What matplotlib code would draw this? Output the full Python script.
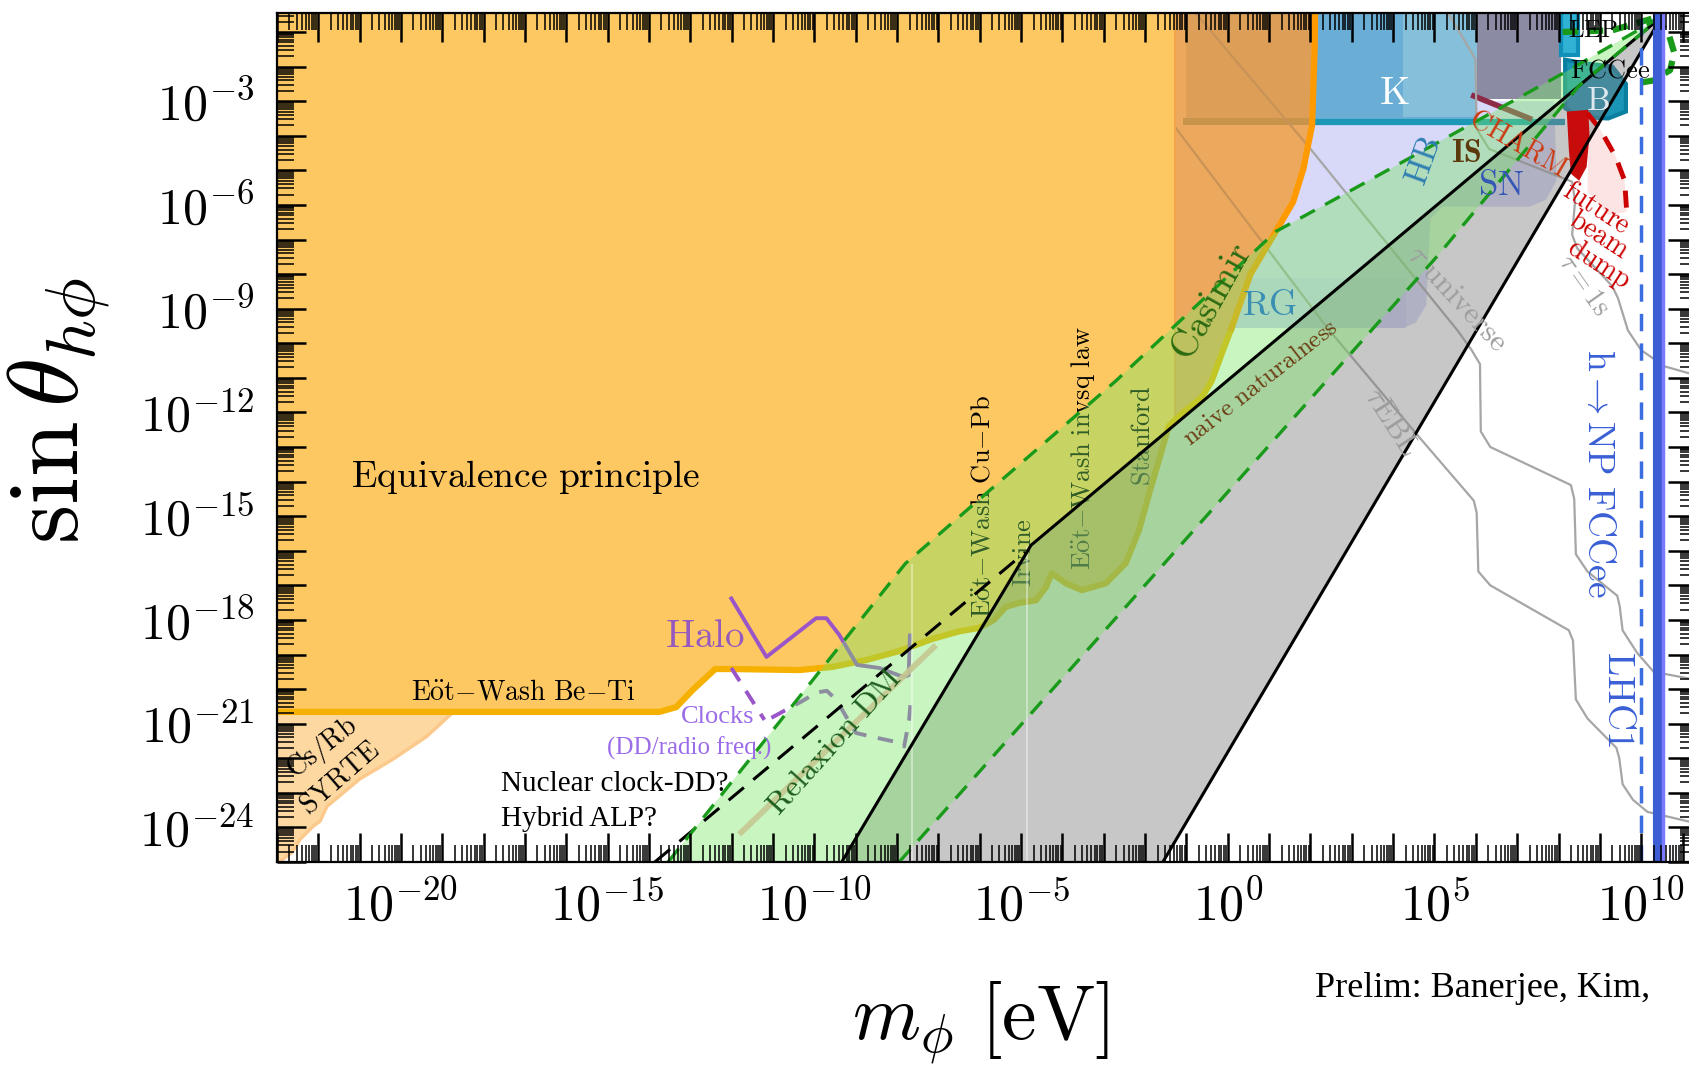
import numpy as np
import matplotlib
matplotlib.use("Agg")
import matplotlib.pyplot as plt
from matplotlib.ticker import LogLocator, FuncFormatter, NullFormatter

plt.rcParams["mathtext.fontset"] = "cm"
plt.rcParams["font.family"] = ["DejaVu Serif"]

# ---------------- data: log10(m_phi / eV) and log10(sin theta) ----------------
X_MIN, X_MAX = -23.0, 11.35
Y_MIN, Y_MAX = -25.0, -0.45

# equivalence principle / fifth force excluded region, lower boundary
ep_lm = [-23.5, -13.75, -13.34, -12.95, -12.4, -11.99, -10.37, -9.57, -8.75, -7.95,
         -7.15, -6.5, -6.02, -5.66, -5.37, -5.05, -4.64, -4.40, -4.26, -3.92,
         -3.53, -2.95, -2.47, -2.15, -1.86, -1.62, -1.43, -1.12, -0.63, -0.39,
         -0.15, 0.09, 0.55, 1.16, 1.58, 1.83, 2.04, 2.10, 2.12]
ep_ls = [-20.66, -20.66, -20.52, -20.03, -19.42, -19.42, -19.45, -19.36, -19.16, -18.90,
         -18.55, -18.33, -18.23, -18.00, -17.62, -17.51, -17.43, -17.05, -16.65, -16.94,
         -17.14, -16.94, -16.36, -15.41, -14.17, -13.19, -12.40, -12.04, -11.57, -11.09,
         -10.31, -9.56, -8.00, -6.77, -5.91, -4.95, -3.68, -1.50, 0.50]
# Cs/Rb SYRTE
cs_lm = [-23.5, -18.77, -19.38, -20.2, -21.0, -21.79, -21.96, -22.13, -22.44, -22.64, -23.5]
cs_ls = [-20.7, -20.7, -21.37, -22.03, -22.6, -23.39, -23.82, -23.97, -24.34, -24.72, -25.5]
# naive naturalness wedge
nat_up_lm = [-9.34, -4.76, 10.5]
nat_up_ls = [-25.0, -15.84, -0.55]
nat_lo_lm = [-1.57, 10.5]
nat_lo_ls = [-25.0, -0.55]
# black dashed
bdash_lm = [-13.86, -4.9]
bdash_ls = [-25.0, -16.04]
# green dashed band
g1_lm = [-13.54, -7.8, -2.71, 1.16, 2.92, 8.16, 10.5]
g1_ls = [-25.0, -16.37, -11.09, -6.77, -5.62, -2.16, -0.55]
g2_lm = [-7.95, 5.09, 8.5, 10.5]
g2_ls = [-25.0, -7.45, -2.55, -0.55]
# relaxion DM line
rdm_lm = [-11.82, -7.06]
rdm_ls = [-24.2, -18.73]
# halo and clocks
halo_lm = [-12.01, -11.16, -9.96, -9.71, -9.4, -8.97, -8.43, -7.85, -7.72, -7.69]
halo_ls = [-17.38, -19.07, -17.95, -17.95, -18.43, -19.3, -19.39, -19.65, -19.6, -18.45]
clk1_lm = [-12.01, -11.21]
clk1_ls = [-19.39, -20.89]
clk2_lm = [-11.04, -10.3, -9.95, -9.7, -9.47, -9.23, -8.99, -8.6, -7.95, -7.83, -7.71, -7.66]
clk2_ls = [-20.83, -20.35, -20.1, -20.05, -20.31, -20.8, -21.27, -21.38, -21.55, -21.66, -20.9, -20.2]
# astrophysics (RG / HB / SN)
lav_lm = [-1.3, 7.9, 7.95, 7.7, 7.3, 5.2, 4.9, 4.8, 4.55, 4.25, -1.3]
lav_ls = [-3.0, -3.0, -5.3, -5.85, -6.05, -6.05, -6.4, -8.9, -9.4, -9.56, -9.56]
rg_lm = [-1.3, 4.3, 4.3, -1.3]
rg_ls = [-9.56, -9.56, -8.1, -8.1]
# K, B, LEP, CHARM, beam dump
k_lm = [-1.0, 6.03, 6.03, -1.0]
k_ls = [-3.55, -3.55, 0.5, 0.5]
kl_lm = [4.25, 6.03, 6.03, 4.25]
kl_ls = [-3.45, -3.45, 0.5, 0.5]
gp_lm = [6.03, 8.06, 8.06, 6.03]
gp_ls = [-2.93, -2.93, 0.5, 0.5]
kline_lm = [2.0, 8.15]
kline_ls = [-3.6, -3.6]
charmtop_lm = [5.95, 7.3]
charmtop_ls = [-2.85, -3.5]
lep_lm = [8.06, 8.47, 8.47, 8.06]
lep_ls = [-1.67, -1.67, 0.5, 0.5]
b_lm = [8.16, 8.6, 9.3, 9.63, 9.63, 9.2, 8.5, 8.16]
b_ls = [-1.8, -1.9, -2.0, -2.5, -3.3, -3.5, -3.45, -3.2]
charm_lm = [8.2, 8.72, 8.75, 8.68, 8.5, 8.3, 8.25]
charm_ls = [-3.3, -3.25, -4.0, -4.9, -5.3, -5.1, -4.4]
bd_lm = [8.7, 9.0, 9.38, 9.6, 9.65]
bd_ls = [-3.35, -3.8, -4.6, -5.3, -6.2]
pink_lm = bd_lm + [9.2, 8.7, 8.72]
pink_ls = bd_ls + [-6.3, -5.6, -4.5]
fcc_lm = [10.3, 10.65, 10.8, 10.7, 10.3, 9.8]
fcc_ls = [-0.6, -1.0, -1.6, -2.1, -2.4, -2.5]
lepd_lm = [8.1, 9.3, 10.3]
lepd_ls = [-1.0, -0.95, -0.6]
hnp_lm = 10.0
lhc1_lm = 10.4
# lifetime contours
tau_uni_lm = [-0.78, 2.0, 5.57, 5.9, 6.1, 6.12, 6.35, 8.3, 8.38, 8.42, 8.7, 9.42, 9.48, 9.55, 9.9, 10.3, 11.4]
tau_uni_ls = [-0.45, -4.38, -9.65, -10.2, -10.6, -12.55, -13.0, -14.1, -14.5, -16.1, -16.6, -17.3, -17.6, -18.3, -18.95, -19.5, -19.75]
tau_ebl_lm = [-1.3, 2.41, 4.54, 5.95, 6.02, 6.06, 6.35, 8.25, 8.35, 8.42, 8.7, 9.4, 9.47, 9.55, 9.8, 10.15, 11.4]
tau_ebl_ls = [-3.71, -9.56, -12.59, -14.55, -14.9, -16.6, -17.0, -18.3, -18.6, -20.3, -20.85, -21.7, -22.0, -22.75, -23.2, -23.55, -23.9]
tau_1s_lm = [5.33, 5.99, 6.02, 6.32, 8.33, 8.4, 8.33, 8.45, 9.3, 9.44, 9.68, 10.0, 10.57, 11.4]
tau_1s_ls = [-0.45, -1.78, -3.8, -4.38, -5.33, -5.9, -6.86, -7.25, -8.35, -8.7, -9.63, -10.2, -10.67, -10.95]

# ---------------- figure ----------------
fig = plt.figure(figsize=(16.9, 10.67), dpi=100)
ax = fig.add_axes([277 / 1690, 205 / 1067, 1420 / 1690, 849 / 1067])
ax.set_xscale("log")
ax.set_yscale("log")
ax.set_xlim(10 ** X_MIN, 10 ** X_MAX)
ax.set_ylim(10 ** Y_MIN, 10 ** Y_MAX)

SERIF = ["Liberation Serif", "DejaVu Serif"]


def P(lm, ls):
    return 10.0 ** np.asarray(lm, float), 10.0 ** np.asarray(ls, float)


def poly(lm, ls, **kw):
    x, y = P(lm, ls)
    return ax.fill(x, y, **kw)[0]


def line(lm, ls, **kw):
    x, y = P(lm, ls)
    return ax.plot(x, y, **kw)[0]


def rm(s):
    return r"$\mathrm{" + s.replace(" ", r"\ ") + "}$"


# astrophysics
poly(lav_lm, lav_ls, fc="#cbcbf7", ec="none", alpha=0.75, zorder=1)
poly(rg_lm, rg_ls, fc="#c0c0f2", ec="none", alpha=0.4, zorder=1.05)
# K region & friends
poly(k_lm, k_ls, fc="#6aaed6", ec="none", zorder=1.1)
poly(kl_lm, kl_ls, fc="#86bfd9", ec="none", zorder=1.12)
poly(gp_lm, gp_ls, fc="#8b8ca4", ec="none", zorder=1.12)
line(kline_lm, kline_ls, color="#1a98b5", lw=4.5, zorder=1.15, solid_capstyle="butt")
line(charmtop_lm, charmtop_ls, color="#8c2a48", lw=4, zorder=1.16)
poly(lep_lm, lep_ls, fc="#30b2d4", ec="#108fb8", lw=3, zorder=1.3)
poly(b_lm, b_ls, fc="#1a95b5", ec="#0b7fa0", lw=3, zorder=1.3)
poly(pink_lm, pink_ls, fc="#fde4e4", ec="none", zorder=1.3)

# lifetime lines
tau_sets = [(tau_uni_lm, tau_uni_ls), (tau_ebl_lm, tau_ebl_ls), (tau_1s_lm, tau_1s_ls)]
for lm, ls in tau_sets:
    line(lm, ls, color="#a6a6a6", lw=1.6, zorder=1.5)

# equivalence principle region
ep_patch = poly([-23.5] + ep_lm, [0.5] + ep_ls, fc="#fdc862", ec="none", zorder=2)
i0 = next(i for i, v in enumerate(ep_lm) if v >= -1.2)
do_patch = poly([-1.28, -1.28] + ep_lm[i0:], [0.5, -12.23] + ep_ls[i0:],
                fc="#eca95d", ec="none", zorder=2.05)
kb = poly([-1.0, 2.3, 2.3, -1.0], [-3.55, -3.55, 0.5, 0.5], fc="#dd9f57", ec="none", zorder=2.06)
kb.set_clip_path(do_patch)
kband = line([-1.0, 2.3], [-3.58, -3.58], color="#c8944c", lw=5, zorder=2.07)
kband.set_clip_path(do_patch)
for lm, ls in tau_sets:
    tl = line(lm, ls, color="#c99358", lw=1.6, zorder=2.08)
    tl.set_clip_path(do_patch)
line([-1.28, -1.28], [0.5, -12.23], color="#f2a54a", lw=1.5, zorder=2.09)
poly(cs_lm, cs_ls, fc="#fdd9a1", ec="#fcc98c", lw=2.5, zorder=2.02)
j0 = ep_lm.index(0.09)
line(ep_lm[:j0 + 1], ep_ls[:j0 + 1], color="#f6b100", lw=4.5, zorder=2.5,
     solid_joinstyle="round")
line(ep_lm[j0:], ep_ls[j0:], color="#ff9a00", lw=4.5, zorder=2.5, solid_joinstyle="round")

# labels living under the green overlay
under = dict(ha="center", va="center", rotation=90, zorder=2.6, color="black")
ax.text(10 ** -5.95, 10 ** -14.73, rm(r"E\ddot{o}t{-}Wash Cu{-}Pb"), fontsize=19, **under)
ax.text(10 ** -4.93, 10 ** -16.05, rm("Irvine"), fontsize=19, **under)
ax.text(10 ** -3.5, 10 ** -13.02, rm(r"E\ddot{o}t{-}Wash invsq law"), fontsize=19, **under)
ax.text(10 ** -2.08, 10 ** -12.68, rm("Stanford"), fontsize=19, **under)

# naive naturalness wedge
poly(nat_up_lm + nat_lo_lm[::-1], nat_up_ls + nat_lo_ls[::-1], fc="#7f7f7f", ec="none",
     alpha=0.43, zorder=3)

# halo / clocks
line(halo_lm, halo_ls, color="#9a55c8", lw=2.8, zorder=3.5)
line(clk1_lm, clk1_ls, color="#9a55c8", lw=2.8, dashes=(4, 3), zorder=3.5)
line(clk2_lm, clk2_ls, color="#9a55c8", lw=2.8, dashes=(4, 3), zorder=3.5)

# green relaxion band
poly(g1_lm + g2_lm[::-1], g1_ls + g2_ls[::-1], fc="#78e664", ec="none", alpha=0.4, zorder=4)
line([-7.64, -7.64], [-16.4, -25], color="white", alpha=0.45, lw=1.3, zorder=4.2)
line([-4.86, -4.86], [-15.9, -25], color="white", alpha=0.45, lw=1.3, zorder=4.2)
line(rdm_lm, rdm_ls, color="#c6c892", lw=4.2, alpha=0.9, solid_capstyle="butt", zorder=4.3)

# top-right experimental bits
poly(charm_lm, charm_ls, fc="#c80c0c", ec="none", zorder=4.5)
line(bd_lm, bd_ls, color="#cc0000", lw=3.5, dashes=(3.5, 2.5), zorder=4.6)

# lines
line(nat_up_lm, nat_up_ls, color="black", lw=2.2, zorder=5)
line(nat_lo_lm, nat_lo_ls, color="black", lw=2.2, zorder=5)
line(bdash_lm, bdash_ls, color="black", lw=2.2, dashes=(6.5, 4), zorder=5)
line(g1_lm, g1_ls, color="#1a9a1a", lw=2.4, dashes=(5, 3.5), zorder=5)
line(g2_lm, g2_ls, color="#1a9a1a", lw=2.4, dashes=(5, 3.5), zorder=5)
line(fcc_lm, fcc_ls, color="#1a9a1a", lw=4.5, dashes=(2.5, 1.5), zorder=5)
line(lepd_lm, lepd_ls, color="#1a9a1a", lw=4.5, dashes=(2.5, 1.5), zorder=5)

# blue vertical lines
ax.axvline(10 ** hnp_lm, color="#3a6ee0", lw=2.5, dashes=(5, 3.5), zorder=6)
ax.axvline(10 ** lhc1_lm, color="#3c5dd4", lw=8, zorder=6)
ax.axvline(10 ** (lhc1_lm + 0.13), color="#7a7aff", lw=2.5, zorder=6)


# ---------------- texts ----------------
def T(lm, ls, s, size, color="black", rot=0, **kw):
    ax.text(10 ** lm, 10 ** ls, s, fontsize=size, color=color, rotation=rot,
            ha=kw.pop("ha", "center"), va=kw.pop("va", "center"),
            rotation_mode="anchor", zorder=kw.pop("zorder", 7), **kw)


T(-16.99, -13.88, rm("Equivalence principle"), 27)
T(-17.03, -20.08, rm(r"E\ddot{o}t{-}Wash Be{-}Ti"), 20)
T(-21.91, -21.7, rm("Cs/Rb"), 20, rot=38)
T(-21.48, -22.56, rm("SYRTE"), 20, rot=41)
T(-12.66, -18.48, rm("Halo"), 28, "#9659be")
T(-12.35, -20.8, "Clocks", 19, "#9b6be8", family=SERIF)
T(-13.02, -21.72, "(DD/radio freq.)", 18, "#9b6be8", family=SERIF)
T(-17.59, -22.75, "Nuclear clock-DD?", 21, ha="left", family=SERIF)
T(-17.59, -23.75, "Hybrid ALP?", 21, ha="left", family=SERIF)
T(-9.52, -21.52, rm("Relaxion DM"), 23, "#1e5e1e", rot=48)
T(-0.38, -8.8, rm("Casimir"), 27, "#2b6a12", rot=61)
T(0.79, -11.14, rm("naive naturalness"), 18, "#6b3c12", rot=38)
T(1.01, -8.88, rm("RG"), 26, "#3b8fb3")
T(4.03, -2.79, rm("K"), 28, "white")
T(4.74, -4.75, rm("HB"), 24, "#2f7fb2", rot=70)
T(5.78, -4.52, r"$\mathbf{IS}$", 23, "#5d3a0e")
T(6.61, -5.42, rm("SN"), 25, "#3557b5")
T(7.02, -4.23, rm("CHARM"), 20, "#cc3a10", rot=-30)
T(8.91, -6.1, rm("future"), 20, "#cc0000", rot=-33)
T(8.98, -6.86, rm("beam"), 20, "#cc0000", rot=-33)
T(8.98, -7.72, rm("dump"), 20, "#cc0000", rot=-33)
T(8.6, -8.3, r"$\tau=1\mathrm{s}$", 20, "#a0a0a0", rot=-55)
T(5.55, -8.7, r"$\tau\ \mathrm{universe}$", 22, "#9d9d9d", rot=-47)
T(3.96, -12.28, r"$\tau\mathrm{EBL}$", 22, "#9d9d9d", rot=-57)
T(8.96, -13.75, r"$\mathrm{h}\rightarrow\mathrm{NP\ FCCee}$", 27, "#3a5fd6", rot=-90)
T(9.44, -20.3, rm("LHC1"), 27, "#3a5fd6", rot=-90)
T(8.84, -0.95, rm("LEP"), 18)
T(9.25, -2.1, rm("FCCee"), 19)
T(8.96, -3.0, rm("B"), 24, "#dfe8ee")


# ---------------- axes styling ----------------
def fmt_factory(step):
    def f(v, pos):
        e = int(np.round(np.log10(v)))
        return r"$10^{%d}$" % e if e % step == 0 else ""
    return FuncFormatter(f)


for axis, step in ((ax.xaxis, 5), (ax.yaxis, 3)):
    axis.set_major_locator(LogLocator(base=10, subs=(1.0,), numticks=200))
    axis.set_minor_locator(LogLocator(base=10, subs=np.arange(2, 10) * 1.0, numticks=200))
    axis.set_major_formatter(fmt_factory(step))
    axis.set_minor_formatter(NullFormatter())
    axis.set_zorder(20)

ax.tick_params(which="both", direction="in", top=True, right=True, colors="black")
ax.tick_params(which="major", length=21, width=1.8, labelsize=36)
ax.tick_params(which="minor", length=12.5, width=1.1)
ax.tick_params(axis="x", which="major", pad=14)
ax.tick_params(axis="y", which="major", pad=16)
for s in ax.spines.values():
    s.set_linewidth(1.6)
    s.set_zorder(21)

fig.text(59 / 1690, 0.615, r"$\sin\theta_{h\phi}$", fontsize=72, rotation=90,
         ha="center", va="center")
fig.text(981 / 1690, 1 - 1040 / 1067, r"$m_\phi\ [\mathrm{eV}]$", fontsize=56,
         ha="center", va="baseline")
fig.text(1315 / 1690, 1 - 997 / 1067, "Prelim: Banerjee, Kim,",
         fontsize=26, family=SERIF, ha="left", va="baseline")

fig.savefig("out.png", dpi=100)
